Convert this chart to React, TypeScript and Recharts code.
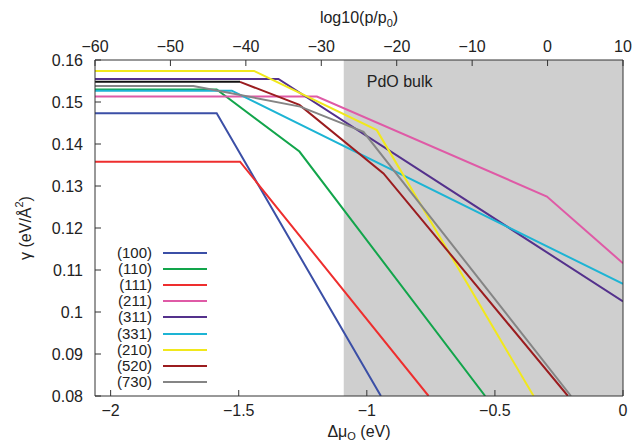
import { LineChart, Line, XAxis, YAxis, ReferenceArea } from 'recharts';

// Δμ_O (eV) and γ (eV/Å²) break points of each facet
const s100X = [-2.061, -1.586, -0.945];
const s100Y = [0.1473, 0.1473, 0.08];
const s110X = [-2.061, -1.586, -1.263, -0.538];
const s110Y = [0.153, 0.153, 0.1382, 0.08];
const s111X = [-2.061, -1.495, -0.759];
const s111Y = [0.1358, 0.1358, 0.08];
const s211X = [-2.061, -1.195, -0.297, 0];
const s211Y = [0.1513, 0.1513, 0.1275, 0.1116];
const s311X = [-2.061, -1.345, 0];
const s311Y = [0.1555, 0.1555, 0.1025];
const s331X = [-2.061, -1.527, 0];
const s331Y = [0.1527, 0.1527, 0.1067];
const s210X = [-2.061, -1.44, -0.961, -0.349];
const s210Y = [0.1574, 0.1574, 0.1433, 0.08];
const s520X = [-2.061, -1.495, -1.263, -0.935, -0.215];
const s520Y = [0.1548, 0.1548, 0.1493, 0.133, 0.08];
const s730X = [-2.061, -1.677, -1.26, -1.013, -0.203];
const s730Y = [0.1538, 0.1538, 0.1489, 0.1429, 0.08];

const muTicks = [-2, -1.5, -1, -0.5, 0];
const pTicks = [-60, -50, -40, -30, -20, -10, 0, 10];
const gammaTicks = [0.08, 0.09, 0.1, 0.11, 0.12, 0.13, 0.14, 0.15, 0.16];
const bulkStart = -1.09;

const pts = (xs: number[], ys: number[]) => xs.map((x, i) => ({ x, y: ys[i] }));

const series = [
  { name: '(100)', color: '#3b4fa6', data: pts(s100X, s100Y) },
  { name: '(110)', color: '#12a54b', data: pts(s110X, s110Y) },
  { name: '(111)', color: '#ee2e2e', data: pts(s111X, s111Y) },
  { name: '(211)', color: '#df5aa6', data: pts(s211X, s211Y) },
  { name: '(311)', color: '#54318c', data: pts(s311X, s311Y) },
  { name: '(331)', color: '#1db4d4', data: pts(s331X, s331Y) },
  { name: '(210)', color: '#f1e81c', data: pts(s210X, s210Y) },
  { name: '(520)', color: '#9b1c1f', data: pts(s520X, s520Y) },
  { name: '(730)', color: '#858585', data: pts(s730X, s730Y) },
];

const font = '"Liberation Sans", Arial, sans-serif';
const minus = (v: number) => String(v).replace('-', '\u2212');

export default function App() {
  return (
    <div style={{ position: 'absolute', left: 0, top: 0, width: 633, height: 443, background: '#fff' }}>
      <LineChart width={633} height={443} margin={{ top: 30, right: 0, bottom: 17, left: 35 }}>
        <XAxis
          xAxisId="mu"
          dataKey="x"
          type="number"
          domain={[-2.061, 0]}
          ticks={muTicks}
          allowDataOverflow
          height={30}
          stroke="#333"
          tickSize={-6}
          tickMargin={15}
          tickFormatter={minus}
          tick={{ fill: '#222', fontSize: 16, fontFamily: font }}
          label={({ viewBox }: any) => (
            <text x={viewBox.x + viewBox.width / 2} y={437} textAnchor="middle" fill="#222" fontSize={16} fontFamily={font}>
              Δμ<tspan dy={3} fontSize={11}>O</tspan><tspan dy={-3}> (eV)</tspan>
            </text>
          )}
        />
        <XAxis
          xAxisId="p"
          dataKey="x"
          orientation="top"
          type="number"
          domain={[-60, 10]}
          ticks={pTicks}
          allowDataOverflow
          height={30}
          stroke="#333"
          tickSize={-6}
          tickMargin={14}
          tickFormatter={minus}
          tick={{ fill: '#222', fontSize: 16, fontFamily: font }}
          label={({ viewBox }: any) => (
            <text x={viewBox.x + viewBox.width / 2} y={23} textAnchor="middle" fill="#222" fontSize={16} fontFamily={font}>
              log10(p/p<tspan dy={4} fontSize={11}>0</tspan><tspan dy={-4}>)</tspan>
            </text>
          )}
        />
        <YAxis
          yAxisId="g"
          type="number"
          domain={[0.08, 0.16]}
          ticks={gammaTicks}
          allowDataOverflow
          width={60}
          stroke="#333"
          tickSize={-6}
          tickMargin={18}
          tickFormatter={(v: number) => String(+v.toFixed(2))}
          tick={{ fill: '#222', fontSize: 16, fontFamily: font }}
          label={({ viewBox }: any) => (
            <text
              x={25}
              y={viewBox.y + viewBox.height / 2}
              transform={`rotate(-90 25 ${viewBox.y + viewBox.height / 2})`}
              textAnchor="middle"
              dominantBaseline="central"
              fill="#222"
              fontSize={16}
              fontFamily={font}
            >
              γ (eV/Å<tspan dy={-6} fontSize={11}>2</tspan><tspan dy={6}>)</tspan>
            </text>
          )}
        />
        <YAxis
          yAxisId="r"
          orientation="right"
          type="number"
          domain={[0.08, 0.16]}
          width={10}
          stroke="#333"
          tick={false}
          tickLine={false}
        />
        <ReferenceArea
          xAxisId="mu"
          yAxisId="g"
          x1={bulkStart}
          x2={0}
          y1={0.08}
          y2={0.16}
          fill="#cfcfcf"
          fillOpacity={1}
          stroke="none"
          label={({ viewBox }: any) => (
            <text x={viewBox.x + 23} y={viewBox.y + 27} fill="#222" fontSize={16} fontFamily={font}>
              PdO bulk
            </text>
          )}
        />
        {/* empty series so the pressure axis gets its ticks */}
        <Line
          xAxisId="p"
          yAxisId="g"
          data={pTicks.map((x) => ({ x }))}
          dataKey="y"
          stroke="none"
          dot={false}
          isAnimationActive={false}
        />
        {series.map((s) =>
          s.name === '(520)' ? (
            [
              <Line key="520a" xAxisId="mu" yAxisId="g" data={s.data.slice(0, 2)} dataKey="y" stroke="#111" strokeWidth={2} dot={false} isAnimationActive={false} />,
              <Line key="520b" xAxisId="mu" yAxisId="g" data={s.data.slice(1)} dataKey="y" stroke={s.color} strokeWidth={2} dot={false} isAnimationActive={false} />,
            ]
          ) : (
            <Line
              key={s.name}
              xAxisId="mu"
              yAxisId="g"
              data={s.data}
              dataKey="y"
              name={s.name}
              stroke={s.color}
              strokeWidth={2}
              dot={false}
              isAnimationActive={false}
            />
          )
        )}
      </LineChart>
      <div style={{ position: 'absolute', left: 92, top: 244.5, fontFamily: font, fontSize: 15, color: '#222' }}>
        {series.map((s) => (
          <div key={s.name} style={{ display: 'flex', alignItems: 'center', height: 16.2 }}>
            <span style={{ width: 60, textAlign: 'right', lineHeight: '16px' }}>{s.name}</span>
            <span style={{ width: 44, height: 2, marginLeft: 11, background: s.color }} />
          </div>
        ))}
      </div>
    </div>
  );
}
